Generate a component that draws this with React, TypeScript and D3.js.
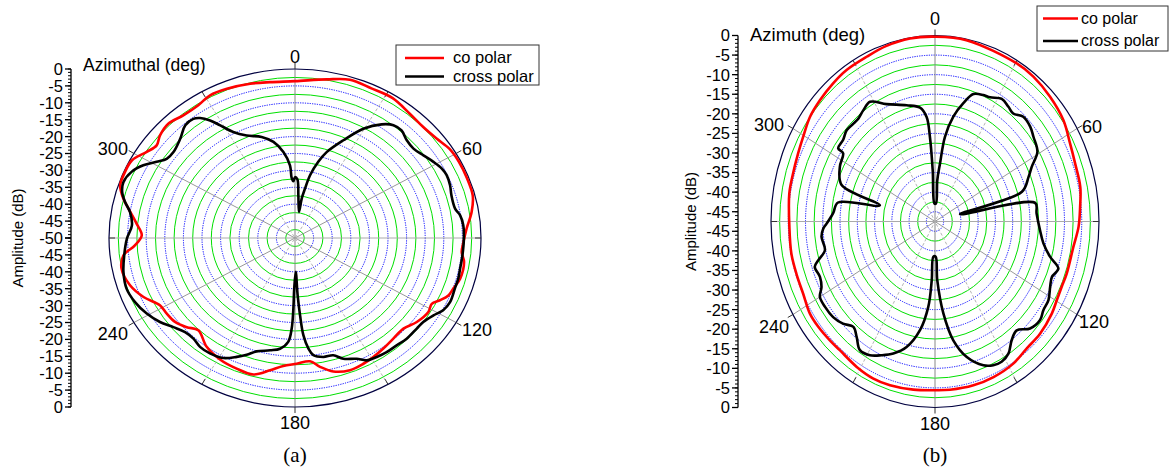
import React from 'react';
import * as d3 from 'd3';

// ---------- data ----------
const angleLabels = [0, 60, 120, 180, 240, 300];
const ampTicksA = [0, -5, -10, -15, -20, -25, -30, -35, -40, -45, -50];
const ampTicksB = [0, -5, -10, -15, -20, -25, -30, -35, -40, -45];
const seriesNames = ['co polar', 'cross polar'];

// panel (a): [azimuth deg, amplitude dB]
const coPolarA: [number, number][] = [
  [0, -3.6], [10.3, -2.3], [17.5, -0.9], [24.9, -1.2], [32.4, -1.0], [40.0, -2.0], [46.4, -2.4],
  [52.3, -1.9], [57.6, -0.8], [62.8, -0.5], [69.0, -0.5], [75.3, -0.6], [80.8, -1.9], [86.6, -3.8],
  [91.5, -4.7], [95.3, -5.0], [98.9, -4.0], [105.2, -4.0], [109.4, -4.9], [112.4, -5.4], [115.3, -6.9],
  [117.9, -8.4], [121.4, -8.0], [127.2, -8.9], [132.6, -10.4], [138.4, -10.2], [144.0, -9.6],
  [149.1, -9.0], [153.7, -8.5], [159.3, -8.2], [165.4, -9.2], [170.0, -11.3], [173.7, -13.3],
  [179.3, -12.8], [184.8, -12.0], [189.7, -10.3], [195.5, -8.1], [202.1, -8.3], [209.3, -8.8],
  [216.4, -10.0], [223.6, -12.3], [227.8, -10.7], [232.4, -9.3], [237.0, -8.9], [241.3, -8.6],
  [246.8, -5.7], [252.5, -3.5], [259.0, -2.5], [263.6, -3.6], [267.1, -6.9], [271.1, -8.8],
  [275.7, -7.2], [281.0, -4.4], [284.2, -2.4], [288.3, -0.5], [292.9, -0.3], [297.6, -0.5],
  [302.6, -2.7], [306.4, -3.8], [309.9, -2.7], [314.8, -2.0], [320.4, -2.9], [326.5, -2.9],
  [331.6, -2.0], [337.5, -2.2], [345.2, -2.8], [351.7, -3.4],
];

const crossPolarA: [number, number][] = [
  [0, -32.0], [2.1, -32.6], [4.1, -37.4], [8.0, -42.2], [8.8, -38.2], [10.4, -35.2], [12.3, -31.0],
  [15.5, -26.6], [18.5, -23.2], [24.2, -18.3], [29.6, -12.8], [34.7, -9.1], [38.4, -7.4], [42.0, -7.2],
  [46.1, -8.3], [50.3, -8.6], [54.7, -7.7], [58.8, -6.5], [62.5, -5.5], [65.5, -5.2], [69.5, -5.5],
  [73.3, -6.1], [78.6, -6.1], [81.4, -5.1], [85.3, -4.6], [90.3, -4.6], [96.5, -4.7], [101.5, -4.7],
  [105.3, -4.5], [109.2, -4.5], [114.5, -4.2], [118.2, -4.8], [121.6, -6.3], [125.8, -7.5],
  [129.3, -7.7], [134.8, -7.7], [139.3, -8.1], [143.9, -8.2], [148.0, -8.5], [152.0, -9.0],
  [155.1, -10.6], [160.0, -12.0], [163.5, -13.8], [167.8, -14.0], [171.9, -15.0], [173.7, -17.1],
  [175.5, -21.1], [176.6, -27.1], [177.6, -33.0], [178.9, -40.0], [180.8, -35.0], [181.2, -29.1],
  [181.9, -23.2], [183.4, -19.2], [187.0, -17.0], [191.4, -16.1], [197.1, -14.9], [200.6, -13.1],
  [204.0, -11.5], [208.5, -9.6], [213.8, -8.9], [218.4, -8.9], [222.5, -9.6], [226.7, -9.4],
  [231.1, -8.0], [235.6, -6.0], [240.7, -4.3], [246.2, -3.0], [251.7, -2.3], [257.7, -2.8],
  [263.6, -3.8], [269.7, -4.8], [274.9, -6.0], [279.8, -5.0], [283.1, -3.1], [286.3, -1.6],
  [289.7, -1.0], [294.0, -1.9], [297.8, -3.9], [301.2, -6.5], [304.2, -8.3], [307.9, -8.6],
  [313.6, -7.4], [318.5, -5.5], [322.2, -5.4], [324.3, -6.3], [326.7, -8.4], [328.9, -11.1],
  [332.1, -14.5], [336.8, -17.0], [343.3, -18.8], [348.5, -21.0], [353.0, -24.4], [356.4, -28.5],
  [357.1, -32.2], [358.5, -33.2],
];

// panel (b)
const coPolarB: [number, number][] = [
  [0, -0.3], [11.1, -0.3], [30.4, -0.7], [37.6, -0.8], [46.3, -1.4], [55.2, -2.2], [63.0, -3.6],
  [70.0, -4.3], [78.1, -4.5], [84.9, -5.3], [91.9, -5.9], [99.2, -6.9], [109.2, -7.1], [114.5, -7.2],
  [119.7, -6.9], [124.8, -6.3], [133.3, -5.7], [140.6, -5.6], [148.0, -4.7], [156.9, -4.3],
  [165.1, -4.2], [174.2, -4.3], [180, -4.4], [188.3, -4.1], [197.3, -3.7], [204.0, -3.6],
  [211.4, -4.0], [220.0, -4.6], [225.1, -4.5], [231.5, -4.3], [237.0, -4.3], [244.3, -5.1],
  [251.6, -5.2], [258.9, -5.1], [268.1, -5.3], [279.6, -4.7], [286.6, -4.6], [293.7, -4.2],
  [299.6, -3.6], [306.4, -2.5], [312.9, -2.0], [320.1, -1.5], [326.5, -1.1], [334.8, -1.0],
  [342.6, -0.5], [351.2, -0.2],
];

const crossPolarB: [number, number][] = [
  [3.5, -42.9], [3.6, -36.9], [5.6, -32.6], [7.6, -25.7], [11.2, -20.2], [15.2, -16.2], [18.9, -13.1],
  [23.5, -12.3], [26.7, -12.0], [31.7, -10.7], [36.0, -11.3], [39.4, -11.8], [43.7, -10.5],
  [48.7, -10.8], [52.8, -11.7], [59.0, -12.9], [63.5, -16.2], [67.2, -18.1], [73.2, -21.2],
  [75.7, -40.0], [80.7, -18.1], [86.0, -18.0], [94.2, -17.0], [100.1, -15.6], [105.1, -13.0],
  [108.6, -9.8], [112.7, -10.8], [116.6, -10.2], [121.4, -9.0], [125.8, -8.8], [129.6, -8.0],
  [134.8, -8.7], [139.6, -11.0], [143.8, -9.9], [147.8, -7.6], [151.7, -6.8], [155.3, -7.1],
  [159.1, -8.2], [165.1, -11.7], [170.1, -16.7], [174.1, -23.9], [177.5, -32.5], [178.8, -38.5],
  [183.0, -38.5], [183.6, -32.5], [185.1, -25.6], [188.9, -19.4], [194.4, -14.4], [199.7, -11.7],
  [204.4, -10.0], [208.9, -8.5], [213.5, -8.1], [217.6, -10.3], [221.3, -11.7], [225.6, -10.2],
  [230.4, -9.2], [235.6, -8.9], [240.0, -9.0], [243.0, -10.6], [247.0, -11.3], [251.6, -10.8],
  [253.7, -12.3], [257.1, -14.8], [263.2, -14.4], [266.8, -15.1], [269.0, -16.1], [274.0, -17.9],
  [279.8, -19.0], [284.4, -31.0], [289.0, -18.9], [296.9, -16.6], [303.2, -15.7], [303.7, -13.8],
  [308.0, -13.7], [312.3, -12.9], [316.6, -13.1], [319.8, -13.1], [323.9, -12.3], [328.4, -11.6],
  [334.9, -14.4], [344.5, -16.7], [351.5, -18.1], [354.8, -20.7], [356.1, -25.8], [357.1, -34.4],
  [358.0, -42.9],
];

// ---------- styles ----------
const FONT = 'Liberation Sans, Arial, Helvetica, sans-serif';
const RED = '#ff0000';
const BLACK = '#000000';
const GREEN = '#00e000';
const BLUE = '#0000ff';
const NAVY = '#000040';

type PanelProps = {
  cx: number; cy: number; rx: number; ry: number; minDb: number;
  ticks: number[]; axisX: number; co: [number, number][]; cross: [number, number][];
  title: string; titleX: number; titleY: number; titleSize: number;
  ylabelX: number; caption: string;
  legendX: number; legendY: number; legendW: number; legendH: number;
  legLine: [number, number]; legTextX: number; legRow0: number; legStep: number; legFont: number;
  labelOffsets: { [k: number]: [number, number, string] };
};

function Panel(p: PanelProps) {
  const { cx, cy, rx, ry, minDb } = p;
  const r = d3.scaleLinear().domain([minDb, 0]).range([0, 1]).clamp(true);
  const rad = (a: number) => (a * Math.PI) / 180;
  const px = (a: number, db: number) => cx + rx * r(db) * Math.sin(rad(a));
  const py = (a: number, db: number) => cy - ry * r(db) * Math.cos(rad(a));
  const line = d3
    .line<[number, number]>()
    .x((d) => px(d[0], d[1]))
    .y((d) => py(d[0], d[1]))
    .curve(d3.curveCatmullRomClosed.alpha(0.5));

  // rings every 2.5 dB
  const rings: number[] = [];
  for (let v = Math.ceil(minDb / 2.5) * 2.5; v < 0; v += 2.5) {
    if (v > minDb + 0.01) rings.push(v);
  }

  const yTop = d3.scaleLinear().domain([minDb, 0]).range([cy, cy - ry]);
  const yBot = d3.scaleLinear().domain([minDb, 0]).range([cy, cy + ry]);
  const minor: number[] = [];
  for (let v = 0; v >= minDb; v -= 1) minor.push(v);

  const spokes = [0, 30, 60, 90, 120, 150];

  return (
    <g>
      {rings.map((v) => {
        const isBlue = Math.abs(v % 5) < 0.01;
        return (
          <ellipse key={v} cx={cx} cy={cy} rx={rx * r(v)} ry={ry * r(v)} fill="none"
            stroke={isBlue ? BLUE : GREEN} strokeWidth={1}
            strokeDasharray={isBlue ? '1.2,1.2' : undefined} />
        );
      })}
      {spokes.map((a) => {
        const x1 = px(a, 0), y1 = py(a, 0), x2 = px(a + 180, 0), y2 = py(a + 180, 0);
        const major = a % 60 === 0;
        const col = a === 0 ? '#888' : a === 90 ? '#aaa' : major ? '#999' : '#b4b4b4';
        return (
          <line key={a} x1={x1} y1={y1} x2={x2} y2={y2} stroke={col} strokeWidth={1}
            strokeDasharray={major || a === 90 ? undefined : '3,2'} />
        );
      })}
      <ellipse cx={cx} cy={cy} rx={rx} ry={ry} fill="none" stroke={NAVY} strokeWidth={1.2} />
      {d3.range(0, 360, 30).map((a) => {
        const s = Math.sin(rad(a)), c = Math.cos(rad(a));
        const x0 = cx + rx * s, y0 = cy - ry * c;
        const len = a % 60 === 0 ? 6 : -6;
        return (
          <line key={a} x1={x0} y1={y0} x2={x0 + len * s} y2={y0 - len * c} stroke="#333" strokeWidth={1} />
        );
      })}
      {angleLabels.map((a) => {
        const [dx, dy, anchor] = p.labelOffsets[a];
        return (
          <text key={a} x={cx + rx * Math.sin(rad(a)) + dx} y={cy - ry * Math.cos(rad(a)) + dy}
            textAnchor={anchor} fontFamily={FONT} fontSize={18} fill="#000">{a}</text>
        );
      })}
      <path d={line(p.co) || ''} fill="none" stroke={RED} strokeWidth={2.6} strokeLinejoin="round" />
      <path d={line(p.cross) || ''} fill="none" stroke={BLACK} strokeWidth={2.6} strokeLinejoin="round" />

      <line x1={p.axisX} x2={p.axisX} y1={cy - ry} y2={cy + ry} stroke="#000" strokeWidth={1.3} />
      {minor.map((v) => (
        <g key={'m' + v}>
          <line x1={p.axisX - 3} x2={p.axisX} y1={yTop(v)} y2={yTop(v)} stroke="#000" strokeWidth={1} />
          <line x1={p.axisX - 3} x2={p.axisX} y1={yBot(v)} y2={yBot(v)} stroke="#000" strokeWidth={1} />
        </g>
      ))}
      {p.ticks.map((v) => (
        <g key={'t' + v}>
          <line x1={p.axisX - 6} x2={p.axisX} y1={yTop(v)} y2={yTop(v)} stroke="#000" strokeWidth={1.3} />
          <line x1={p.axisX - 6} x2={p.axisX} y1={yBot(v)} y2={yBot(v)} stroke="#000" strokeWidth={1.3} />
          <text x={p.axisX - 8} y={yTop(v)} dy="0.36em" textAnchor="end" fontFamily={FONT} fontSize={16.5}>{v}</text>
          {Math.abs(yBot(v) - yTop(v)) > 8 && (
            <text x={p.axisX - 8} y={yBot(v)} dy="0.36em" textAnchor="end" fontFamily={FONT} fontSize={16.5}>{v}</text>
          )}
        </g>
      ))}
      <text transform={`translate(${p.ylabelX},${cy}) rotate(-90)`} textAnchor="middle"
        fontFamily={FONT} fontSize={15}>Amplitude (dB)</text>
      <text x={p.titleX} y={p.titleY} fontFamily={FONT} fontSize={p.titleSize}>{p.title}</text>

      <rect x={p.legendX} y={p.legendY} width={p.legendW} height={p.legendH} fill="#fff" stroke="#333" strokeWidth={1} />
      {seriesNames.map((n, i) => {
        const ly = p.legRow0 + i * p.legStep;
        return (
          <g key={n}>
            <line x1={p.legLine[0]} x2={p.legLine[1]} y1={ly} y2={ly} stroke={i === 0 ? RED : BLACK} strokeWidth={2.6} />
            <text x={p.legTextX} y={ly + 5} fontFamily={FONT} fontSize={p.legFont}>{n}</text>
          </g>
        );
      })}
      <text x={cx} y={462} textAnchor="middle" fontFamily="Liberation Serif, Times New Roman, serif" fontSize={21}>{p.caption}</text>
    </g>
  );
}

export default function App() {
  return (
    <svg width={1170} height={471} style={{ position: 'absolute', left: 0, top: 0, background: '#fff' }}>
      <rect width={1170} height={471} fill="#fff" />
      <Panel cx={295} cy={238} rx={186} ry={169} minDb={-50} ticks={ampTicksA} axisX={71}
        co={coPolarA} cross={crossPolarA} title="Azimuthal (deg)" titleX={83} titleY={70.5} titleSize={17.5}
        ylabelX={23} caption="(a)" legendX={396} legendY={45} legendW={143} legendH={40}
        legLine={[405, 444]} legTextX={453} legRow0={58} legStep={18.5} legFont={16.5}
        labelOffsets={{ 0: [0, -6, 'middle'], 60: [6, 1, 'start'], 120: [6, 13, 'start'], 180: [0, 22, 'middle'], 240: [-6, 17, 'end'], 300: [-6, 1, 'end'] }} />
      <Panel cx={935} cy={221.5} rx={164} ry={186} minDb={-47.5} ticks={ampTicksB} axisX={738}
        co={coPolarB} cross={crossPolarB} title="Azimuth (deg)" titleX={750} titleY={40.5} titleSize={18.5}
        ylabelX={696} caption="(b)" legendX={1037} legendY={6} legendW={131} legendH={45}
        legLine={[1043, 1078]} legTextX={1081} legRow0={18.5} legStep={22.5} legFont={16}
        labelOffsets={{ 0: [0, -11, 'middle'], 60: [5, 4, 'start'], 120: [2, 13, 'start'], 180: [0, 22, 'middle'], 240: [-4, 18, 'end'], 300: [-9, 2, 'end'] }} />
    </svg>
  );
}
